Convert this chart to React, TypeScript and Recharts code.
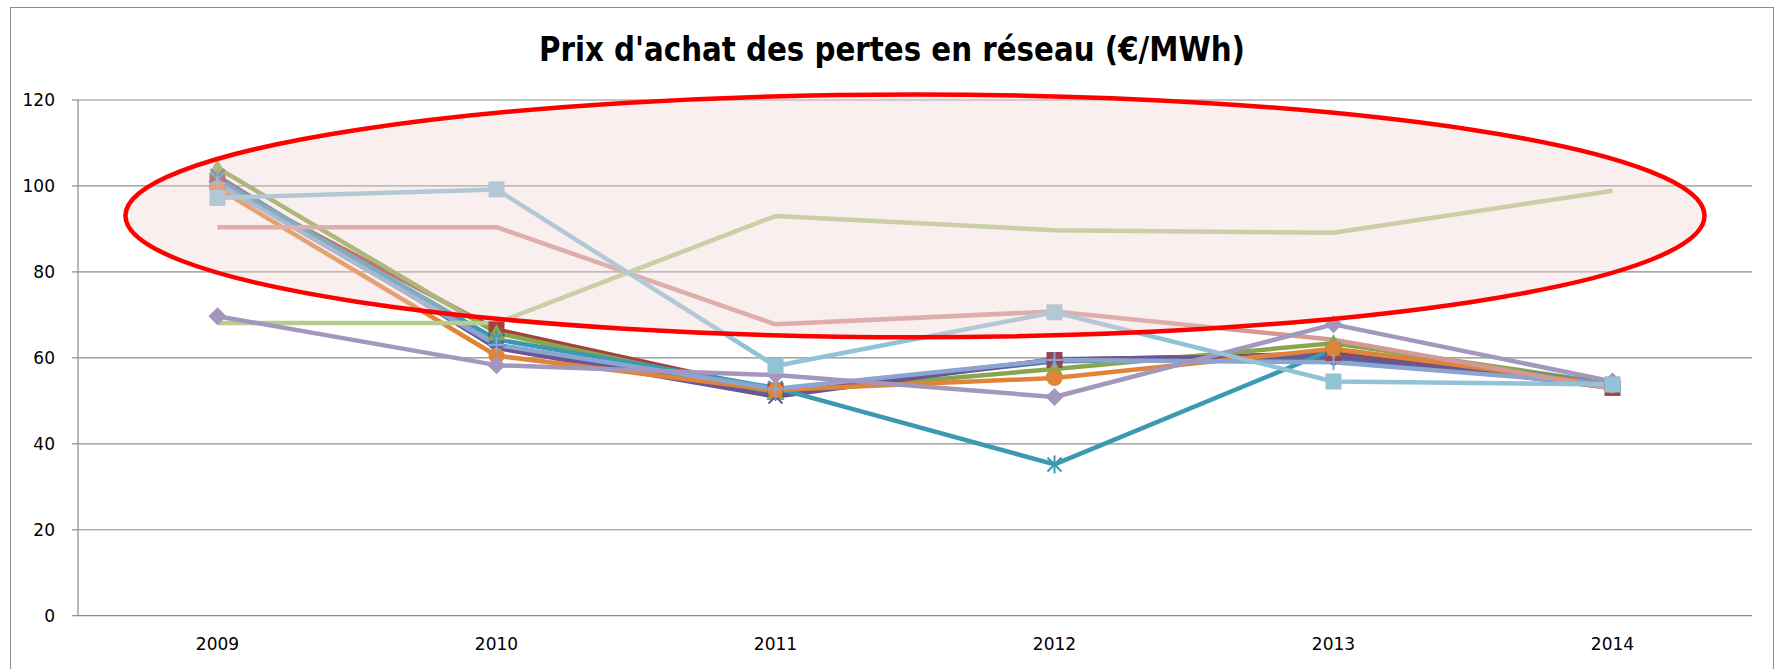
import { CartesianGrid, Line, LineChart, ReferenceArea, XAxis, YAxis } from 'recharts';

// Prix d'achat des pertes en réseau, €/MWh
const years = [2009, 2010, 2011, 2012, 2013, 2014];
const yTicks = [0, 20, 40, 60, 80, 100, 120];

const blue = [101, 63, 52, 59.2, 60, 53.6];
const red = [100.8, 66.6, 52.4, 59.5, 61, 53];
const green = [104.2, 65.8, 51.8, 57.4, 63.4, 54];
const purple = [102.3, 62.3, 51, 59.7, 60.5, 53.5];
const teal = [101.5, 64.3, 53, 35.2, 62, 54];
const orange = [99.5, 60.5, 52.5, 55.3, 62.1, 53.6];
const periwinkle = [100.6, 63, 52.8, 59.5, 59, 53.8];
const pink = [90.4, 90.4, 67.8, 70.8, 64.2, 52.8];
const lightGreen = [68.1, 68.1, 93, 89.7, 89.1, 98.9];
const lavender = [69.7, 58.3, 56, 50.9, 67.8, 54.5];
const lightBlue = [97.2, 99.2, 58.1, 70.6, 54.5, 53.8];

// highlighted zone drawn by hand on the original chart
const zone = { x1: 2008.67, x2: 2014.33, y1: 64.8, y2: 121.3 };

type Marker = 'diamond' | 'square' | 'triangle' | 'x' | 'star' | 'circle' | 'plus' | 'none';

const series: { key: string; values: number[]; color: string; marker: Marker }[] = [
  { key: 'blue', values: blue, color: '#4A72AE', marker: 'diamond' },
  { key: 'red', values: red, color: '#A4403D', marker: 'square' },
  { key: 'green', values: green, color: '#88A64A', marker: 'triangle' },
  { key: 'purple', values: purple, color: '#6B5593', marker: 'x' },
  { key: 'teal', values: teal, color: '#3B9AB2', marker: 'star' },
  { key: 'orange', values: orange, color: '#E0843A', marker: 'circle' },
  { key: 'periwinkle', values: periwinkle, color: '#8AA6D0', marker: 'plus' },
  { key: 'pink', values: pink, color: '#D49895', marker: 'none' },
  { key: 'lightGreen', values: lightGreen, color: '#B6CD8F', marker: 'none' },
  { key: 'lavender', values: lavender, color: '#A497BE', marker: 'diamond' },
  { key: 'lightBlue', values: lightBlue, color: '#92C2D6', marker: 'square' }
];

const data = years.map((year, i) => {
  const row: Record<string, number> = { year };
  series.forEach((s) => {
    row[s.key] = s.values[i];
  });
  return row;
});

const boundaryTicks = [...years.map((y) => y - 0.5), years[years.length - 1] + 0.5];

const grey = '#8C8C8C';
const axisFont = { fontFamily: 'DejaVu Sans, sans-serif', fontSize: 17, fill: '#000' };

function makeDot(marker: Marker, color: string) {
  return (props: any) => {
    const { cx, cy, index } = props;
    const k = `m${index}`;
    if (cx == null || cy == null || marker === 'none') return <g key={k} />;
    switch (marker) {
      case 'diamond':
        return <polygon key={k} points={`${cx},${cy - 9} ${cx + 9},${cy} ${cx},${cy + 9} ${cx - 9},${cy}`} fill={color} />;
      case 'square':
        return <rect key={k} x={cx - 8} y={cy - 8} width={16} height={16} fill={color} />;
      case 'triangle':
        return <polygon key={k} points={`${cx},${cy - 9} ${cx + 9},${cy + 7} ${cx - 9},${cy + 7}`} fill={color} />;
      case 'circle':
        return <circle key={k} cx={cx} cy={cy} r={8} fill={color} />;
      case 'x':
        return (
          <g key={k} stroke={color} strokeWidth={2}>
            <line x1={cx - 7} y1={cy - 7} x2={cx + 7} y2={cy + 7} />
            <line x1={cx - 7} y1={cy + 7} x2={cx + 7} y2={cy - 7} />
          </g>
        );
      case 'star':
        return (
          <g key={k} stroke={color} strokeWidth={2}>
            <line x1={cx - 7} y1={cy - 7} x2={cx + 7} y2={cy + 7} />
            <line x1={cx - 7} y1={cy + 7} x2={cx + 7} y2={cy - 7} />
            <line x1={cx} y1={cy - 9} x2={cx} y2={cy + 9} />
          </g>
        );
      case 'plus':
        return (
          <g key={k} stroke={color} strokeWidth={2}>
            <line x1={cx - 8} y1={cy} x2={cx + 8} y2={cy} />
            <line x1={cx} y1={cy - 8} x2={cx} y2={cy + 8} />
          </g>
        );
      default:
        return <g key={k} />;
    }
  };
}

const Ellipse = (props: any) => {
  const { x, y, width, height } = props;
  return (
    <ellipse
      cx={x + width / 2}
      cy={y + height / 2}
      rx={width / 2}
      ry={height / 2}
      fill="rgb(236,212,209)"
      fillOpacity={0.37}
      stroke="#FF0000"
      strokeWidth={4.5}
    />
  );
};

export default function App() {
  return (
    <div style={{ position: 'absolute', left: 0, top: 0, width: 1779, height: 669, overflow: 'hidden', background: '#fff' }}>
      <div
        style={{
          position: 'absolute',
          left: 10,
          top: 7,
          width: 1764,
          height: 720,
          boxSizing: 'border-box',
          border: `1px solid ${grey}`
        }}
      />
      <svg style={{ position: 'absolute', left: 0, top: 0 }} width={1779} height={100}>
        <text
          x={539}
          y={60.5}
          fontFamily="'Liberation Sans Narrow', 'DejaVu Sans Condensed', sans-serif"
          fontWeight="bold"
          fontSize={34}
          textLength={706}
          lengthAdjust="spacingAndGlyphs"
          fill="#000"
        >
          Prix d'achat des pertes en réseau (€/MWh)
        </text>
      </svg>
      <div style={{ position: 'absolute', left: 0, top: 0 }}>
        <LineChart width={1779} height={669} data={data} margin={{ top: 100, right: 27, left: 0, bottom: 0 }}>
          <CartesianGrid vertical={false} stroke={grey} strokeWidth={1.2} />
          <XAxis
            xAxisId="bounds"
            dataKey="year"
            type="number"
            domain={[boundaryTicks[0], boundaryTicks[boundaryTicks.length - 1]]}
            ticks={boundaryTicks}
            interval={0}
            tick={false}
            tickSize={8}
            height={0}
            axisLine={{ stroke: grey, strokeWidth: 1.2 }}
            tickLine={{ stroke: grey, strokeWidth: 1.2 }}
          />
          <XAxis
            dataKey="year"
            type="number"
            domain={[boundaryTicks[0], boundaryTicks[boundaryTicks.length - 1]]}
            ticks={years}
            interval={0}
            tick={axisFont}
            tickSize={0}
            tickMargin={22}
            tickLine={false}
            axisLine={false}
            height={53.3}
          />
          <YAxis
            type="number"
            domain={[0, 120]}
            ticks={yTicks}
            interval={0}
            width={78}
            tick={axisFont}
            tickSize={6}
            tickMargin={17}
            axisLine={{ stroke: grey, strokeWidth: 1.2 }}
            tickLine={{ stroke: grey, strokeWidth: 1.2 }}
          />
          {series.map((s) => (
            <Line
              key={s.key}
              dataKey={s.key}
              stroke={s.color}
              strokeWidth={4.5}
              strokeLinejoin="round"
              dot={makeDot(s.marker, s.color)}
              activeDot={false}
              isAnimationActive={false}
            />
          ))}
          <ReferenceArea
            x1={zone.x1}
            x2={zone.x2}
            y1={zone.y1}
            y2={zone.y2}
            ifOverflow="visible"
            shape={Ellipse}
            zIndex={900}
          />
        </LineChart>
      </div>
    </div>
  );
}
